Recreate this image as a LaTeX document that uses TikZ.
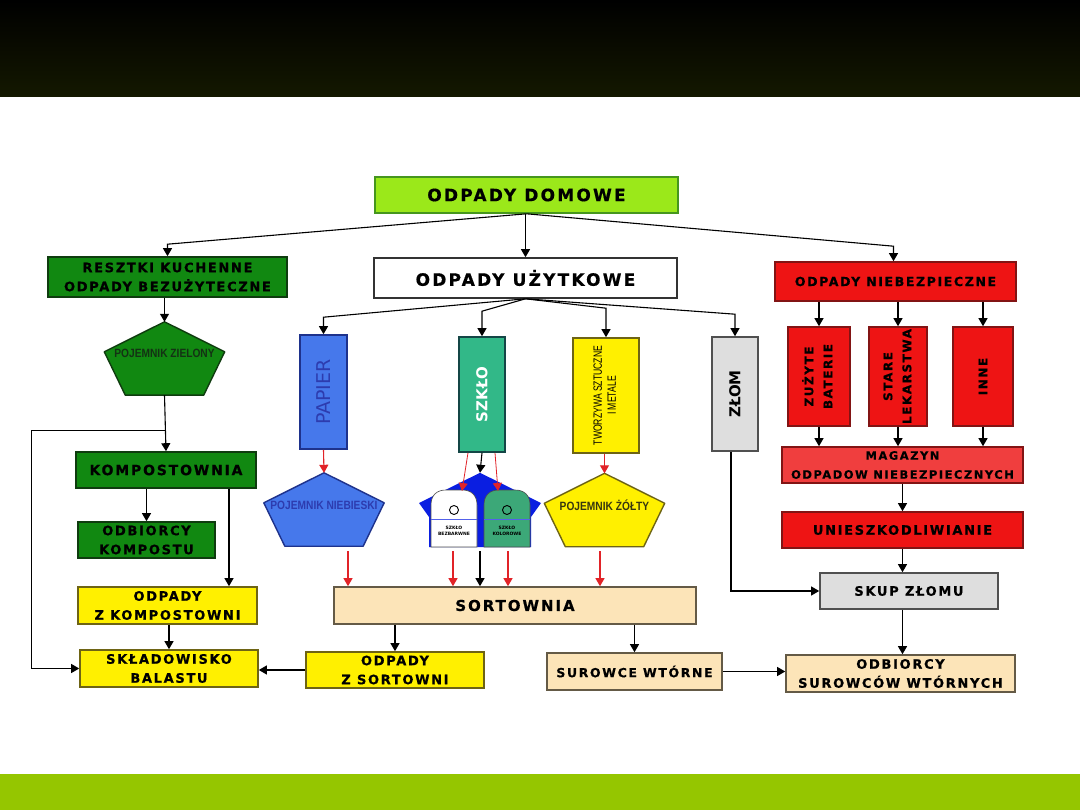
\documentclass[tikz,border=0pt]{standalone}
\usepackage{fontspec}
\usepackage{graphicx}
\setmainfont{DejaVu Sans}
\newfontfamily\boxfont[LetterSpace=13,BoldFeatures={FakeBold=0.6}]{DejaVu Sans}
\newfontfamily\narrowfont[FakeStretch=0.85]{Liberation Sans Bold}
\newfontfamily\slimfont[FakeStretch=0.72]{Liberation Sans}
\usetikzlibrary{arrows.meta}
\definecolor{topBand}{RGB}{20,24,0}
\definecolor{bottomBand}{RGB}{149,198,0}
\definecolor{limeFill}{RGB}{155,232,26}
\definecolor{limeEdge}{RGB}{70,150,30}
\definecolor{greenFill}{RGB}{17,136,17}
\definecolor{greenEdge}{RGB}{15,60,15}
\definecolor{greenText}{RGB}{20,50,20}
\definecolor{redFill}{RGB}{238,20,20}
\definecolor{redLight}{RGB}{240,62,62}
\definecolor{redEdge}{RGB}{130,20,20}
\definecolor{blueFill}{RGB}{70,120,235}
\definecolor{blueEdge}{RGB}{30,50,140}
\definecolor{blueText}{RGB}{45,60,175}
\definecolor{tealFill}{RGB}{50,184,136}
\definecolor{tealEdge}{RGB}{20,70,70}
\definecolor{yellowFill}{RGB}{255,240,0}
\definecolor{yellowEdge}{RGB}{110,100,20}
\definecolor{yellowText}{RGB}{55,55,15}
\definecolor{greyFill}{RGB}{222,222,222}
\definecolor{greyEdge}{RGB}{80,80,80}
\definecolor{beigeFill}{RGB}{252,228,184}
\definecolor{beigeEdge}{RGB}{100,90,70}
\definecolor{kontBlue}{RGB}{10,30,225}
\definecolor{kontGreen}{RGB}{60,168,120}
\definecolor{arrowRed}{RGB}{225,35,40}
\newcommand{\Pent}[4]{%
  \node[inner sep=0pt,minimum width=120pt,minimum height=73pt] (#1) at (#2) {};
  \filldraw[fill=#3,draw=#4,line width=1.4pt,line join=round]
    (#1.north) -- ([yshift=-30pt]#1.north east) -- ([xshift=-21pt]#1.south east)
    -- ([xshift=21pt]#1.south west) -- ([yshift=-30pt]#1.north west) -- cycle;
}

\begin{document}
\begin{tikzpicture}[x=1pt,y=-1pt,
  box/.style 2 args={draw=#2,fill=#1,line width=1.6pt,inner sep=0pt,align=center},
  wh/.style 2 args={minimum width=#1pt,minimum height=#2pt},
  lbl/.style={font=\boxfont\bfseries\fontsize{#1}{19}\selectfont},
  arr/.style={-{Triangle[width=9pt,length=8pt]},line width=1.1pt},
  redarr/.style={arr,draw=arrowRed},
  pentlbl/.style={font=\narrowfont\fontsize{12}{14}\selectfont,inner sep=0pt}]
  \useasboundingbox (0,0) rectangle (1080,810);
  \fill[white] (0,0) rectangle (1080,810);
  \shade[top color=black,bottom color=topBand] (0,0) rectangle (1080,97);
  \fill[bottomBand] (0,774) rectangle (1080,810);

  % gora
  \node[box={limeFill}{limeEdge},wh={303}{36},lbl=17] (domowe) at (526.5,195) {ODPADY DOMOWE};
  \node[box={greenFill}{greenEdge},wh={239}{40},lbl=13] (resztki) at (167.5,277) {RESZTKI KUCHENNE\\ODPADY BEZUŻYTECZNE};
  \node[box={white}{black!80},wh={303}{40},lbl=17] (uzytk) at (525.5,278) {ODPADY UŻYTKOWE};
  \node[box={redFill}{redEdge},wh={241}{39},lbl=12.5] (niebez) at (895.5,281.5) {ODPADY NIEBEZPIECZNE};

  % kolumny pionowe
  \node[box={blueFill}{blueEdge},wh={47}{114},font=\fontsize{19}{19}\selectfont,text=blueText] (papier) at (323.5,392) {\rotatebox{90}{PAPIER}};
  \node[box={tealFill}{tealEdge},wh={46}{115},font=\bfseries\fontsize{15}{15}\selectfont,text=white] (szklo) at (482,394.5) {\rotatebox{90}{SZKŁO}};
  \node[box={yellowFill}{yellowEdge},wh={66}{115},font=\slimfont\fontsize{12}{14}\selectfont] (tworz) at (606,395.5) {\rotatebox{90}{\begin{tabular}{@{}c@{}}TWORZYWA SZTUCZNE\\I METALE\end{tabular}}};
  \node[box={greyFill}{greyEdge},wh={46}{114},font=\bfseries\fontsize{15}{15}\selectfont] (zlom) at (735,394) {\rotatebox{90}{ZŁOM}};
  \node[box={redFill}{redEdge},wh={62}{99},lbl=12] (bater) at (819,376.5) {\rotatebox{90}{\begin{tabular}{@{}c@{}}ZUŻYTE\\BATERIE\end{tabular}}};
  \node[box={redFill}{redEdge},wh={58}{99},lbl=12] (lek) at (898,376.5) {\rotatebox{90}{\begin{tabular}{@{}c@{}}STARE\\LEKARSTWA\end{tabular}}};
  \node[box={redFill}{redEdge},wh={60}{99},lbl=12] (inne) at (983,376.5) {\rotatebox{90}{INNE}};

  % odpady niebezpieczne dalej
  \node[box={redLight}{redEdge},wh={241}{36},lbl=11.5] (magazyn) at (902.5,465) {MAGAZYN\\ODPADOW NIEBEZPIECZNYCH};
  \node[box={redFill}{redEdge},wh={241}{36},lbl=13] (unieszk) at (902.5,530) {UNIESZKODLIWIANIE};
  \node[box={greyFill}{greyEdge},wh={178}{36},lbl=13] (skup) at (909,591) {SKUP ZŁOMU};
  \node[box={beigeFill}{beigeEdge},wh={229}{37},lbl=13] (odbsur) at (900.5,673.5) {ODBIORCY\\SUROWCÓW WTÓRNYCH};

  % dol
  \node[box={beigeFill}{beigeEdge},wh={362}{37},lbl=15] (sort) at (515,605.5) {SORTOWNIA};
  \node[box={beigeFill}{beigeEdge},wh={175}{37},lbl=12.5] (surowce) at (634.5,671.5) {SUROWCE WTÓRNE};
  \node[box={yellowFill}{yellowEdge},wh={178}{36},lbl=13] (odpsort) at (395,670) {ODPADY\\Z SORTOWNI};
  \node[box={yellowFill}{yellowEdge},wh={178}{37},lbl=13] (sklad) at (169,668.5) {SKŁADOWISKO\\BALASTU};

  % lewa strona
  \node[box={greenFill}{greenEdge},wh={180}{36},lbl=14] (kompost) at (166,470) {KOMPOSTOWNIA};
  \node[box={greenFill}{greenEdge},wh={137}{36},lbl=13] (odbkomp) at (146.5,540) {ODBIORCY\\KOMPOSTU};
  \node[box={yellowFill}{yellowEdge},wh={179}{37},lbl=13] (odpkomp) at (167.5,605.5) {ODPADY\\Z KOMPOSTOWNI};

  % pojemniki
  \Pent{pz}{164.5,358.5}{greenFill}{greenEdge}
  \node[pentlbl,text=greenText] (pz-t) at ([yshift=-32pt]pz.north) {POJEMNIK ZIELONY};
  \Pent{pn}{324,509.5}{blueFill}{blueEdge}
  \node[pentlbl,text=blueText] (pn-t) at ([yshift=-33pt]pn.north) {POJEMNIK NIEBIESKI};
  \Pent{pzol}{604.5,510}{yellowFill}{yellowEdge}
  \node[pentlbl,text=yellowText] (pzol-t) at ([yshift=-32pt]pzol.north) {POJEMNIK ŻÓŁTY};

  % pojemnik na szklo
  \node[inner sep=0pt,wh={122}{74}] (kont) at (480,510) {};
  \fill[kontBlue] (kont.north) -- (541,503) -- (531,517) -- (531,547) -- (429,547) -- (429,517) -- (419,503) -- cycle;
  \foreach \bx/\kol/\opis [count=\i] in {431/white/BEZBARWNE,484/kontGreen/KOLOROWE}{
    \filldraw[fill=\kol,draw=black!70,line width=0.6pt] (\bx,547) -- (\bx,505)
      .. controls (\bx,495) and (\bx+6,490) .. (\bx+15,490) -- (\bx+31,490)
      .. controls (\bx+40,490) and (\bx+46,495) .. (\bx+46,505) -- (\bx+46,547) -- cycle;
    \draw[kontBlue!70,line width=1pt] (\bx,519) -- (\bx+46,519);
    \draw[line width=0.9pt] (\bx+23,510) circle[radius=4.5];
    \node[font=\bfseries\fontsize{4.5}{6}\selectfont,align=center,inner sep=0pt] (kont-\i) at (\bx+23,531) {SZKŁO\\\opis};
  }

  % strzalki od gory
  \draw[arr] (domowe.south) -- ([yshift=12pt]resztki.north) -- (resztki.north);
  \draw[arr] (uzytk.north |- domowe.south) -- (uzytk.north);
  \draw[arr] (domowe.south) -- ([xshift=-2pt,yshift=15pt]niebez.north) -- ([xshift=-2pt]niebez.north);
  \foreach \cel/\dy in {papier/17,szklo/25,tworz/29,zlom/22}
    \draw[arr] (uzytk.south) -- ([yshift=\dy pt]\cel.north) -- (\cel.north);
  \foreach \cel in {bater,lek,inne}{
    \draw[arr] (\cel.north |- niebez.south) -- (\cel.north);
    \draw[arr] (\cel.south) -- (\cel.south |- magazyn.north);
  }
  \draw[arr] (magazyn.south) -- (unieszk.north);
  \draw[arr] (unieszk.south) -- (unieszk.south |- skup.north);
  \draw[arr] (unieszk.south |- skup.south) -- (unieszk.south |- odbsur.north);
  \draw[arr] ([xshift=-4pt]zlom.south) |- (skup.west);

  % pojemniki -> sortownia
  \draw[redarr] (papier.south) -- (pn.north);
  \draw[redarr] (pzol.north |- tworz.south) -- (pzol.north);
  \draw[arr] (szklo.south) -- (kont.north);
  \coordinate (wlewL) at (462,491);
  \coordinate (wlewP) at (498,491);
  \draw[redarr,line width=0.8pt] ([xshift=-14pt]szklo.south) -- (wlewL);
  \draw[redarr,line width=0.8pt] ([xshift=13pt]szklo.south) -- (wlewP);
  \foreach \wx/\styl [count=\i] in {348/redarr,453/redarr,480/arr,508/redarr,600/redarr}{
    \coordinate (wy-\i) at (\wx,551);
    \draw[\styl] (wy-\i) -- (wy-\i |- sort.north);
  }
  \draw[arr] (odpsort.north |- sort.south) -- (odpsort.north);
  \draw[arr] (surowce.north |- sort.south) -- (surowce.north);
  \draw[arr] (surowce.east) -- (surowce.east -| odbsur.west);
  \draw[arr] (odpsort.west) -- (odpsort.west -| sklad.east);

  % lewa kolumna
  \draw[arr] (pz.north |- resztki.south) -- (pz.north);
  \draw[arr] (pz.south) -- (kompost.north);
  \coordinate (rozw) at ([yshift=-35pt]pz.south);
  \draw[arr] (rozw) -- ++(-133,0) |- (sklad.west);
  \draw[arr] (odbkomp.north |- kompost.south) -- (odbkomp.north);
  \coordinate (kz) at ([xshift=63pt]kompost.south);
  \draw[arr] (kz) -- (kz |- odpkomp.north);
  \draw[arr] (sklad.north |- odpkomp.south) -- (sklad.north);
\end{tikzpicture}
\end{document}
